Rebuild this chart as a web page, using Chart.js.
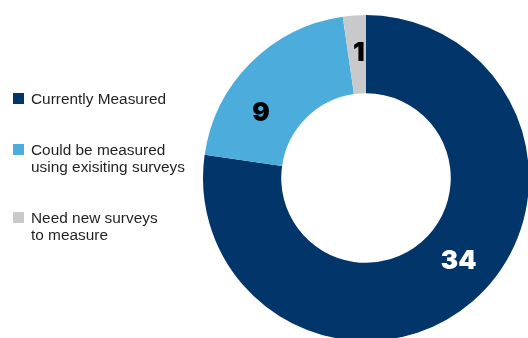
<!DOCTYPE html>
<html>
<head>
<meta charset="utf-8">
<script src="https://cdn.jsdelivr.net/npm/chart.js@4/dist/chart.umd.min.js"></script>
<style>
  html, body { margin: 0; padding: 0; width: 528px; height: 338px; overflow: hidden; background: #ffffff; }
  #wrap { position: relative; width: 528px; height: 338px; overflow: hidden; }
  #c { position: absolute; left: 0; top: 0; }
  #legend { position: absolute; left: 13px; top: 90px; font-family: "Liberation Sans", Arial, sans-serif; font-size: 15.4px; line-height: 17px; color: #231f20; white-space: nowrap; }
  .item { display: flex; align-items: flex-start; margin-bottom: 34px; }
  .sw { width: 11px; height: 11px; margin-top: 3px; margin-right: 7px; flex: none; }
</style>
</head>
<body>
<div id="wrap">
  <canvas id="c" width="540" height="360" style="width:540px;height:360px"></canvas>
  <div id="legend"></div>
</div>
<script>
// ---- data ----
const categories = [
  ["Currently Measured"],
  ["Could be measured", "using exisiting surveys"],
  ["Need new surveys", "to measure"]
];
const values = [34, 9, 1];
const valueLabels = ["34", "9", "1"];
const colors = ["#02366b", "#4caddd", "#c8c9cb"];
const labelColors = ["#ffffff", "#000000", "#000000"];

// label placement within each slice (fraction of the slice's angular span)
const labelFractions = [0.473, 0.325, 0.6];

// legend
const legend = document.getElementById('legend');
categories.forEach((lines, i) => {
  const it = document.createElement('div');
  it.className = 'item';
  const sw = document.createElement('div');
  sw.className = 'sw';
  sw.style.background = colors[i];
  const tx = document.createElement('div');
  tx.innerHTML = lines.map(s => s.replace(/&/g, '&amp;').replace(/</g, '&lt;')).join('<br>');
  it.appendChild(sw);
  it.appendChild(tx);
  legend.appendChild(it);
});

const sliceLabels = {
  id: 'sliceLabels',
  afterDatasetsDraw(chart) {
    const ctx = chart.ctx;
    const meta = chart.getDatasetMeta(0);
    ctx.save();
    ctx.font = '900 26px Inter, "Roboto", "Liberation Sans", sans-serif';
    ctx.textAlign = 'center';
    ctx.textBaseline = 'middle';
    meta.data.forEach((arc, i) => {
      const p = arc.getProps(['x', 'y', 'startAngle', 'endAngle', 'innerRadius', 'outerRadius'], true);
      const a = p.startAngle + (p.endAngle - p.startAngle) * labelFractions[i];
      const r = (p.innerRadius + p.outerRadius) / 2 + (i === 2 ? 2 : 0);
      ctx.fillStyle = labelColors[i];
      ctx.fillText(valueLabels[i], p.x + Math.cos(a) * r, p.y + Math.sin(a) * r + 1);
    });
    ctx.restore();
  }
};

new Chart(document.getElementById('c'), {
  type: 'doughnut',
  data: {
    labels: categories.map(l => l.join(' ')),
    datasets: [{
      data: values,
      backgroundColor: colors,
      borderWidth: 0,
      hoverOffset: 0
    }]
  },
  options: {
    responsive: false,
    animation: false,
    devicePixelRatio: 1,
    cutout: '52%',
    layout: { padding: { left: 203, top: 15, right: 11, bottom: 19 } },
    plugins: { legend: { display: false }, tooltip: { enabled: false } }
  },
  plugins: [sliceLabels]
});
</script>
</body>
</html>
